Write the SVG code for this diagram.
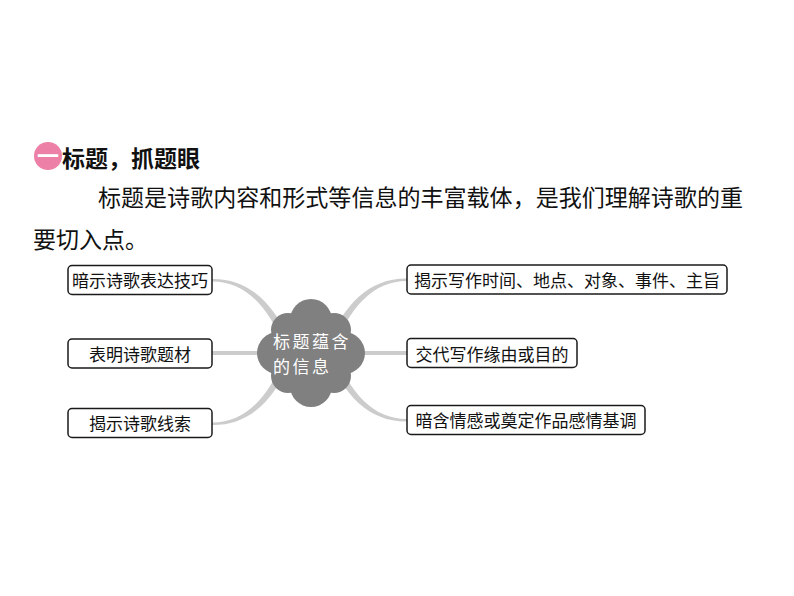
<svg xmlns="http://www.w3.org/2000/svg" width="794" height="596" viewBox="0 0 794 596">
<style>
.box{fill:#fff;stroke:#1a1a1a;stroke-width:1.5}
.bt{font-family:"Noto Sans CJK SC","Noto Sans",sans-serif;font-size:17px;fill:#111;text-anchor:middle}
.br{fill:#cccccc}
.bl{stroke:#cccccc;stroke-width:4;fill:none}
.cl{fill:#808080}
.ct{font-family:"Noto Sans CJK SC","Noto Sans",sans-serif;font-size:17px;letter-spacing:2.5px;fill:#fff}
.p{font-family:"Noto Sans CJK SC","Noto Sans",sans-serif;font-size:23px;fill:#111}
</style>
<rect width="794" height="596" fill="#fff"/>
<g id="heading">
<circle cx="48" cy="156" r="14" fill="#ec80a7"/>
<text x="37" y="164" font-family="'Noto Sans CJK SC',sans-serif" font-size="22" font-weight="700" fill="#fff">一</text>
<text x="62" y="167" font-family="'Noto Sans CJK SC',sans-serif" font-size="23" font-weight="700" fill="#111">标题，抓题眼</text>
</g>
<g id="paragraph">
<text class="p" x="98" y="206" textLength="645" lengthAdjust="spacingAndGlyphs">标题是诗歌内容和形式等信息的丰富载体，是我们理解诗歌的重</text>
<text class="p" x="33" y="248">要切入点。</text>
</g>
<g id="connectors">
<path class="br" d="M212,279 C249,278.5 275,303 294,350 L286,350 C269,307 246,281.5 212,281.5 Z"/>
<path class="br" d="M212,425 C249,425.5 275,401 294,354 L286,354 C269,397 246,422.5 212,422.5 Z"/>
<path class="br" d="M407,278.5 C370,278 344,303 325,350 L333,350 C350,307 373,281 407,281 Z"/>
<path class="br" d="M407,421.5 C370,422 344,397 325,350 L333,350 C350,393 373,419 407,419 Z"/>
<path class="bl" d="M212,353 H300"/>
<path class="bl" d="M320,353 H407"/>
</g>
<g id="center">
<circle class="cl" cx="311" cy="352" r="40"/>
<circle class="cl" cx="311" cy="320" r="21"/>
<circle class="cl" cx="311" cy="386" r="21"/>
<circle class="cl" cx="278" cy="353" r="21"/>
<circle class="cl" cx="344" cy="353" r="21"/>
<circle class="cl" cx="288" cy="330" r="17"/>
<circle class="cl" cx="334" cy="330" r="17"/>
<circle class="cl" cx="288" cy="376" r="17"/>
<circle class="cl" cx="334" cy="376" r="17"/>
<text class="ct"><tspan x="273" y="348">标题蕴含</tspan><tspan x="273" y="373">的信息</tspan></text>
</g>
<g id="node-l1">
<rect class="box" x="68" y="265.5" width="144" height="29" rx="4"/>
<text class="bt" x="140" y="287">暗示诗歌表达技巧</text>
</g>
<g id="node-l2">
<rect class="box" x="68" y="339" width="144" height="29" rx="4"/>
<text class="bt" x="140" y="361">表明诗歌题材</text>
</g>
<g id="node-l3">
<rect class="box" x="68" y="408.5" width="144" height="29" rx="4"/>
<text class="bt" x="140" y="430">揭示诗歌线索</text>
</g>
<g id="node-r1">
<rect class="box" x="407" y="265" width="320" height="29" rx="4"/>
<text class="bt" x="567" y="287">揭示写作时间、地点、对象、事件、主旨</text>
</g>
<g id="node-r2">
<rect class="box" x="407" y="338.5" width="170" height="29" rx="4"/>
<text class="bt" x="492" y="361">交代写作缘由或目的</text>
</g>
<g id="node-r3">
<rect class="box" x="407" y="405.5" width="238" height="29" rx="4"/>
<text class="bt" x="526" y="427">暗含情感或奠定作品感情基调</text>
</g>
</svg>
